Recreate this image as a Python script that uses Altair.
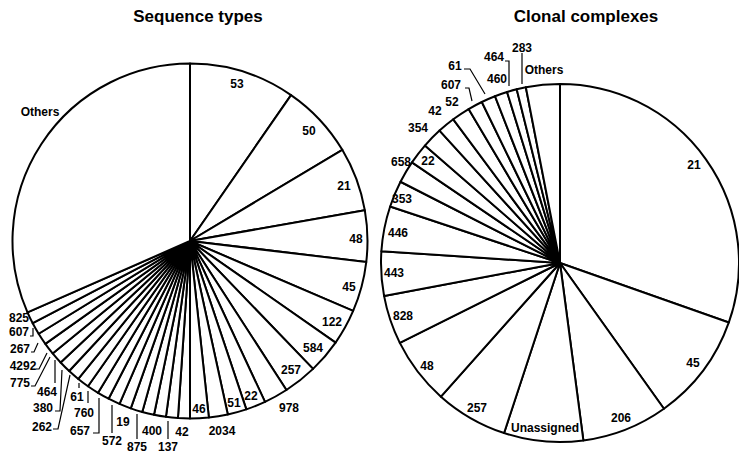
import altair as alt
import pandas as pd

# ---------------- data (slice sizes, in degrees) -------------
st_labels = ["53", "50", "21", "48", "45", "122", "584", "257", "978", "22", "51",
             "2034", "46", "42", "137", "400", "875", "19", "572", "657", "760",
             "61", "262", "380", "464", "775", "4292", "267", "607", "825", "Others"]
st_degrees = [34.7, 24.4, 20.9, 16.8, 16.4, 11.7, 11.2, 11.0, 7.9, 6.5, 6.2,
              6.2, 6.1, 3.9, 3.9, 3.9, 3.9, 3.9, 3.9, 3.9, 3.9,
              3.9, 3.9, 3.9, 3.9, 3.9, 3.9, 3.9, 3.9, 3.9, 113.7]

cc_labels = ["21", "45", "206", "Unassigned", "257", "48", "828", "443", "446",
             "353", "22", "658", "354", "42", "52", "607", "61", "460", "464",
             "283", "Others"]
cc_degrees = [109.4, 35.1, 28.0, 25.7, 23.5, 21.8, 15.9, 14.4, 14.6,
              8.6, 7.2, 6.8, 6.7, 5.7, 5.9, 4.8, 4.6, 4.1, 3.2,
              3.0, 11.0]

titles = ["Sequence types", "Clonal complexes"]

# ---------------- layout (page pixels) ----------------
ST_CX, ST_CY, ST_R = 190, 241, 177.5
CC_CX, CC_CY, CC_R = 560, 263, 179
TITLE_POS = [(198, 17), (586, 17)]

st_label_pos = {
    "53": (237, 84), "50": (309, 131), "21": (344, 186), "48": (356, 239),
    "45": (349, 287), "122": (332, 322), "584": (313, 348), "257": (291, 370),
    "978": (289, 408), "22": (251, 396), "51": (234, 403), "46": (199, 409),
    "2034": (222, 431), "42": (182, 432), "137": (168, 447), "400": (152, 431),
    "875": (137, 447), "19": (123, 422), "572": (112, 441), "657": (80, 431),
    "760": (84, 413), "61": (77, 397), "262": (42, 427), "380": (43, 408),
    "464": (47, 392), "775": (20, 383), "4292": (23, 366), "267": (20, 349),
    "607": (19, 332), "825": (19, 318), "Others": (40, 112),
}
cc_label_pos = {
    "21": (694, 165), "45": (693, 363), "206": (621, 418), "Unassigned": (545, 428),
    "257": (477, 408), "48": (427, 366), "828": (403, 316), "443": (394, 273),
    "446": (398, 233), "353": (402, 199), "22": (428, 161), "658": (401, 162),
    "354": (418, 128), "42": (435, 111), "52": (452, 102), "607": (451, 85),
    "61": (455, 66), "460": (497, 79), "464": (494, 57), "283": (522, 48),
    "Others": (544, 70),
}
leaders = {
    "st137": [(168, 421), (168, 439)],
    "st875": [(137, 414), (137, 439)],
    "st572": [(112, 405), (112, 433)],
    "st657": [(93, 433), (99, 433), (99, 398)],
    "st760": [(88, 391), (88, 403)],
    "st61": [(79, 383), (79, 388)],
    "st262": [(53, 429), (58, 429), (70, 375)],
    "st380": [(55, 411), (60, 411), (62, 370)],
    "st464": [(55, 360), (55, 383)],
    "st775": [(31, 386), (35, 386), (50, 357)],
    "st4292": [(36, 369), (39, 369), (47, 353)],
    "st267": [(31, 352), (34, 352), (38, 343)],
    "st607": [(30, 336), (33, 336), (33, 328)],
    "cc607": [(465, 88), (469, 88), (472, 101)],
    "cc61": [(464, 69), (470, 69), (485, 94)],
    "cc464": [(505, 61), (509, 61), (509, 86)],
    "cc283": [(522, 53), (522, 84)],
}


def slice_table(labels, degrees, cx, cy):
    rows, start = [], 0.0
    for lab, d in zip(labels, degrees):
        rows.append({"label": lab, "start": start, "end": start + d, "cx": cx, "cy": cy})
        start += d
    return pd.DataFrame(rows)


st_df = slice_table(st_labels, st_degrees, ST_CX, ST_CY)
cc_df = slice_table(cc_labels, cc_degrees, CC_CX, CC_CY)

lab_rows = []
for lab in st_labels:
    x, y = st_label_pos[lab]
    lab_rows.append({"label": lab, "x": x, "y": y})
for lab in cc_labels:
    x, y = cc_label_pos[lab]
    lab_rows.append({"label": lab, "x": x, "y": y})
lab_df = pd.DataFrame(lab_rows)

lead_rows = []
for key, pts in leaders.items():
    for i, (x, y) in enumerate(pts):
        lead_rows.append({"id": key, "seq": i, "x": x, "y": y})
lead_df = pd.DataFrame(lead_rows)

title_df = pd.DataFrame({"title": titles, "x": [p[0] for p in TITLE_POS],
                         "y": [p[1] for p in TITLE_POS]})

W, H = 731, 445
xs = alt.Scale(domain=[8, 8 + W], nice=False, zero=False)
ys = alt.Scale(domain=[8, 8 + H], nice=False, zero=False, reverse=True)
ts = alt.Scale(domain=[0, 360], range=[0, 6.283185307179586])


def arc_layer(df, r):
    return alt.Chart(df).mark_arc(radius=r, fill="white", stroke="black",
                                  strokeWidth=2, strokeJoin="round").encode(
        x=alt.X("cx:Q", scale=xs, axis=None),
        y=alt.Y("cy:Q", scale=ys, axis=None),
        theta=alt.Theta("start:Q", scale=ts, stack=False),
        theta2="end:Q",
    )


pies = arc_layer(st_df, ST_R) + arc_layer(cc_df, CC_R)

lead = alt.Chart(lead_df).mark_line(color="black", strokeWidth=1.2).encode(
    x=alt.X("x:Q", scale=xs, axis=None),
    y=alt.Y("y:Q", scale=ys, axis=None),
    detail="id:N",
    order="seq:Q",
)

labels = alt.Chart(lab_df).mark_text(font="Liberation Sans", fontWeight="bold",
                                     fontSize=12, color="black",
                                     align="center", baseline="middle").encode(
    x=alt.X("x:Q", scale=xs, axis=None),
    y=alt.Y("y:Q", scale=ys, axis=None),
    text="label:N",
)

title_text = alt.Chart(title_df).mark_text(font="Liberation Sans", fontWeight="bold",
                                           fontSize=17, color="black",
                                           align="center", baseline="middle").encode(
    x=alt.X("x:Q", scale=xs, axis=None),
    y=alt.Y("y:Q", scale=ys, axis=None),
    text="title:N",
)

chart = alt.layer(pies, lead, labels, title_text).properties(
    width=W, height=H, padding=0, autosize="none"
).configure_view(stroke=None)

chart.save("out.html", embed_options={"renderer": "svg", "actions": False})
